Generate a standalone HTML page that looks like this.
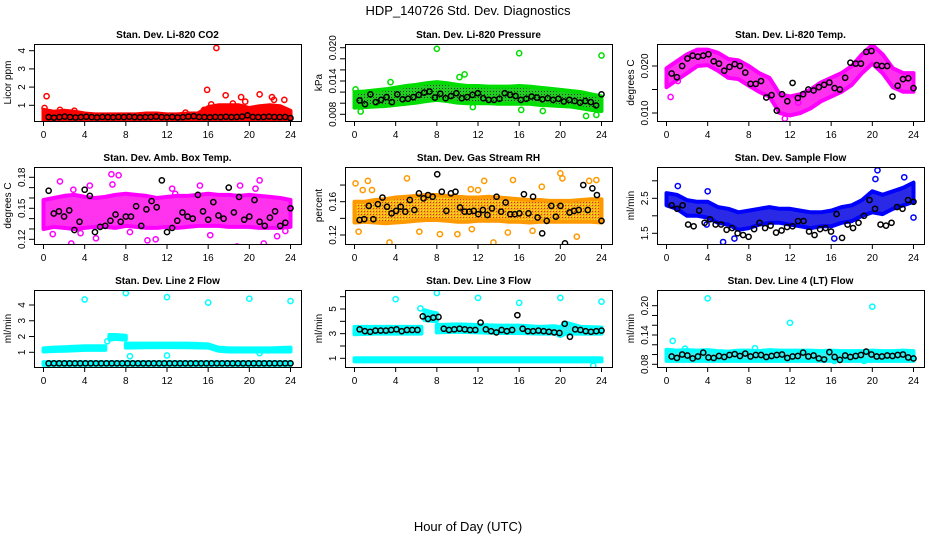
<!DOCTYPE html>
<html><head><meta charset="utf-8">
<style>
html,body{margin:0;padding:0;background:#fff;}
svg{display:block;font-family:"Liberation Sans",Arial,sans-serif;}
</style></head>
<body>
<svg id="chart" width="936" height="540" viewBox="0 0 936 540">
<defs>
<pattern id="pat-pressure" width="3" height="3" patternUnits="userSpaceOnUse"><rect width="3" height="3" fill="#22cc22"/><rect x="1" y="1" width="1" height="1" fill="#064406"/></pattern>
<pattern id="pat-rh" width="3" height="3" patternUnits="userSpaceOnUse"><rect width="3" height="3" fill="#f5b020"/><rect x="1" y="1" width="1" height="1" fill="#e03000"/><rect x="0" y="0" width="1" height="1" fill="#ffee00"/></pattern>
</defs>
<text x="468" y="15" font-size="13" text-anchor="middle">HDP_140726  Std. Dev. Diagnostics</text>
<text x="468" y="531" font-size="13" text-anchor="middle">Hour of Day (UTC)</text>
</svg>
<script>
// ---------- data ----------
const bandHours = [0,1,2,3,4,5,6,7,8,9,10,11,12,13,14,15,16,17,18,19,20,21,22,23,24];
const xTicks = [0,4,8,12,16,20,24];

const co2Lo = [0.2,0.2,0.2,0.2,0.2,0.2,0.2,0.2,0.2,0.2,0.2,0.2,0.2,0.2,0.2,0.2,0.2,0.2,0.2,0.2,0.2,0.2,0.2,0.2,0.2];
const co2Hi = [0.75,0.65,0.7,0.65,0.55,0.5,0.5,0.5,0.5,0.5,0.55,0.55,0.5,0.5,0.55,0.55,0.9,1.0,1.0,1.0,0.85,0.95,1.0,0.95,0.7];
const co2Out = [[0.3,1.5],[0.1,0.85],[15.9,1.85],[16.8,4.15],[17.7,1.55],[21,1.6],[22.2,1.45],[23.4,1.3],[19.2,1.45],[19.6,1.2],[15.6,0.75],[13.8,0.6],[16.3,1.05],[18.4,1.1],[22.4,1.3],[1.6,0.75],[3,0.7]];
const co2Blk = [0.35,0.32,0.35,0.38,0.35,0.33,0.35,0.37,0.35,0.33,0.36,0.35,0.34,0.36,0.35,0.37,0.35,0.34,0.35,0.36,0.38,0.35,0.34,0.36,0.33,0.35,0.38,0.4,0.36,0.35,0.34,0.36,0.35,0.37,0.35,0.36,0.38,0.45,0.36,0.35,0.36,0.38,0.36,0.35,0.36,0.3];

const presLo = [0.0092,0.0093,0.0094,0.0095,0.0097,0.0099,0.0101,0.0104,0.0106,0.0104,0.0101,0.0100,0.0100,0.0100,0.0099,0.0099,0.0099,0.0099,0.0097,0.0096,0.0095,0.0094,0.0091,0.0088,0.0086];
const presHi = [0.0120,0.0121,0.0123,0.0125,0.0128,0.0131,0.0133,0.0136,0.0138,0.0136,0.0133,0.0131,0.0131,0.0130,0.0130,0.0130,0.0131,0.0130,0.0128,0.0126,0.0124,0.0122,0.0120,0.0116,0.0112];
const presOut = [[8,0.0198],[16,0.0190],[24,0.0186],[0.6,0.0085],[22.5,0.0077],[16.2,0.0088],[10.7,0.0152],[11.5,0.0093],[0.1,0.0125],[18.3,0.0086],[23.5,0.0079],[10.2,0.0147],[3.5,0.0138]];
const presBlk = [0.0105,0.0098,0.0116,0.0102,0.0106,0.0111,0.0102,0.0116,0.0107,0.0108,0.0111,0.0115,0.0119,0.0121,0.0110,0.0117,0.0109,0.0113,0.0118,0.0109,0.0111,0.0115,0.0118,0.0109,0.0106,0.0106,0.0108,0.0118,0.0115,0.0113,0.0106,0.0108,0.0112,0.0110,0.0107,0.0109,0.0106,0.0108,0.0103,0.0106,0.0104,0.0101,0.0104,0.0102,0.0096,0.0116];

const tempLo = [0.0155,0.0170,0.0185,0.0200,0.0202,0.0190,0.0175,0.0172,0.0158,0.0145,0.0135,0.0100,0.0095,0.0100,0.0110,0.0125,0.0135,0.0145,0.0160,0.0185,0.0205,0.0185,0.0155,0.0145,0.0145];
const tempHi = [0.0195,0.0210,0.0225,0.0235,0.0235,0.0228,0.0215,0.0212,0.0200,0.0185,0.0175,0.0140,0.0135,0.0140,0.0150,0.0165,0.0175,0.0185,0.0200,0.0225,0.0245,0.0225,0.0195,0.0185,0.0185];
const tempOut = [[0.4,0.0134],[11.5,0.0088],[12.8,0.0122],[1.1,0.0168]];
const tempBlk = [0.0184,0.0176,0.0200,0.0216,0.0222,0.0220,0.0222,0.0225,0.0210,0.0205,0.0190,0.0198,0.0204,0.0200,0.0186,0.0162,0.0162,0.0168,0.0133,0.0138,0.0105,0.0140,0.0125,0.0164,0.0132,0.0140,0.0150,0.0148,0.0155,0.0160,0.0165,0.0153,0.0150,0.0175,0.0207,0.0205,0.0205,0.0230,0.0232,0.0202,0.0200,0.0200,0.0135,0.0158,0.0172,0.0174,0.0153];

const ambLo = [0.130,0.132,0.131,0.130,0.131,0.132,0.132,0.131,0.133,0.132,0.131,0.131,0.132,0.131,0.132,0.133,0.133,0.133,0.132,0.132,0.132,0.131,0.131,0.131,0.132];
const ambHi = [0.158,0.160,0.162,0.163,0.161,0.160,0.161,0.163,0.164,0.163,0.162,0.160,0.161,0.162,0.162,0.163,0.164,0.163,0.163,0.162,0.163,0.162,0.161,0.160,0.158];
const ambOut = [[1.6,0.176],[2.7,0.116],[4.5,0.172],[5.1,0.121],[6.6,0.183],[7.3,0.182],[6.7,0.173],[10.1,0.119],[10.9,0.120],[13.5,0.109],[12.5,0.169],[15.2,0.172],[18.8,0.113],[19.1,0.172],[20.6,0.169],[21,0.177],[21.4,0.116],[22.7,0.123],[0.9,0.125],[3.6,0.126],[8.4,0.127],[16.2,0.124],[23.5,0.128],[2.9,0.168],[12.8,0.164]];
const ambBlk = [0.167,0.145,0.147,0.142,0.148,0.129,0.137,0.168,0.162,0.127,0.132,0.133,0.138,0.144,0.137,0.142,0.142,0.152,0.133,0.149,0.157,0.151,0.177,0.127,0.131,0.138,0.146,0.142,0.140,0.163,0.147,0.139,0.156,0.143,0.140,0.170,0.146,0.161,0.139,0.142,0.158,0.137,0.133,0.141,0.147,0.133,0.136,0.150];

const rhLo = [0.135,0.136,0.135,0.134,0.135,0.136,0.137,0.138,0.138,0.137,0.136,0.136,0.137,0.137,0.137,0.136,0.136,0.135,0.136,0.136,0.136,0.136,0.136,0.136,0.135];
const rhHi = [0.160,0.160,0.162,0.163,0.165,0.166,0.167,0.168,0.168,0.167,0.166,0.165,0.165,0.166,0.165,0.164,0.163,0.162,0.162,0.161,0.161,0.161,0.162,0.163,0.163];
const rhOut = [[0.1,0.182],[0.4,0.124],[1.3,0.185],[3.4,0.111],[5.1,0.188],[6.3,0.124],[8.3,0.121],[10,0.121],[11.4,0.127],[12.6,0.185],[13.5,0.111],[14.9,0.123],[15.4,0.186],[17.3,0.125],[18.2,0.178],[20,0.194],[20.2,0.188],[21.6,0.118],[22.8,0.185],[23.5,0.186],[0.8,0.174],[1.7,0.174],[11.3,0.175],[12,0.174]];
const rhBlk = [0.138,0.139,0.155,0.139,0.157,0.165,0.154,0.146,0.149,0.154,0.148,0.162,0.150,0.170,0.164,0.168,0.166,0.193,0.172,0.149,0.170,0.172,0.153,0.148,0.148,0.149,0.145,0.150,0.144,0.152,0.166,0.148,0.159,0.145,0.145,0.146,0.169,0.146,0.166,0.141,0.122,0.137,0.155,0.142,0.155,0.110,0.147,0.149,0.150,0.180,0.150,0.176,0.168,0.137];

const flowLo = [2.30,2.20,2.00,2.00,1.95,1.80,1.75,1.60,1.65,1.75,1.80,1.80,1.75,1.70,1.65,1.70,1.70,1.80,1.85,2.00,2.10,2.05,2.20,2.30,2.40];
const flowHi = [2.65,2.60,2.45,2.40,2.40,2.25,2.20,2.10,2.15,2.20,2.25,2.20,2.20,2.15,2.10,2.10,2.15,2.25,2.30,2.45,2.70,2.60,2.70,2.80,2.95];
const flowOut = [[1.1,2.85],[5.5,1.25],[6.6,1.35],[16.3,1.35],[20.5,3.3],[20.3,3.05],[23.1,3.1],[24,1.95],[3.9,1.75],[4,2.7]];
const flowBlk = [2.3,2.2,2.3,1.75,1.7,2.15,1.8,1.9,1.75,1.75,1.6,1.65,1.5,1.45,1.4,1.62,1.8,1.65,1.72,1.52,1.58,1.68,1.7,1.85,1.85,1.55,1.45,1.62,1.65,1.55,2.05,1.37,1.75,1.65,1.8,2.0,2.45,2.2,1.75,1.72,1.8,2.25,2.2,2.45,2.4];

const l2Lo = [1.05,1.08,1.1,1.12,1.15,1.15,1.15];
const l2Hi = [1.25,1.3,1.32,1.35,1.38,1.38,1.38];
const l2bHours = [6.4,7,8];
const l2bLo = [1.8,1.85,1.8];
const l2bHi = [2.1,2.1,2.05];
const l2cHours = [8,10,12,14,16,17,18,20,22,24];
const l2cLo = [1.3,1.32,1.33,1.32,1.3,1.1,1.05,1.05,1.05,1.05];
const l2cHi = [1.55,1.55,1.55,1.55,1.5,1.3,1.25,1.25,1.25,1.3];
const l2Lo2 = bandHours.map(()=>0.2);
const l2Hi2 = bandHours.map(()=>0.38);
const l2Out = [[4,4.35],[8,4.75],[12,4.5],[16,4.15],[20,4.4],[24,4.25],[8.4,0.75],[12,0.8],[6.2,1.7],[21,0.95]];
const l2Blk = [0.3,0.3,0.3,0.3,0.3,0.3,0.3,0.3,0.3,0.3,0.3,0.3,0.3,0.3,0.3,0.3,0.3,0.3,0.3,0.3,0.3,0.3,0.3,0.3,0.3,0.3,0.3,0.3,0.3,0.3,0.3,0.3,0.3,0.3,0.3,0.3,0.3,0.3,0.3,0.3,0.3,0.3,0.3,0.3,0.3,0.3,0.3];

const l3aHours = [0,2,4,6.5];
const l3aLo = [2.95,3.0,3.0,3.0];
const l3aHi = [3.55,3.55,3.55,3.55];
const l3bHours = [6.8,7.4,8];
const l3bLo = [4.1,4.05,4.0];
const l3bHi = [4.9,4.75,4.65];
const l3cHours = [8,10,12,14,16,18,19.5,20,20.5,22,24];
const l3cLo = [3.1,3.15,3.1,3.05,3.05,3.0,3.0,2.8,3.0,3.0,3.0];
const l3cHi = [3.7,3.75,3.7,3.65,3.65,3.55,3.6,3.5,3.9,3.55,3.5];
const l3Lo2 = bandHours.map(()=>0.75);
const l3Hi2 = bandHours.map(()=>1.0);
const l3Out = [[4,5.8],[8,6.3],[12,5.9],[16,5.5],[20,5.9],[24,5.6],[6.4,5.05],[23.2,0.4]];
const l3Blk = [3.35,3.2,3.15,3.25,3.25,3.25,3.3,3.35,3.2,3.3,3.3,3.3,4.4,4.2,4.3,4.35,3.4,3.3,3.35,3.4,3.35,3.3,3.3,3.9,3.35,3.2,3.1,3.3,3.2,3.3,4.5,3.4,3.2,3.2,3.25,3.2,3.15,3.1,3.05,3.8,2.75,3.35,3.3,3.2,3.15,3.2,3.25];

const l4Lo = bandHours.map(()=>0.087);
const l4Hi = [0.110,0.108,0.109,0.108,0.109,0.107,0.106,0.108,0.108,0.107,0.109,0.108,0.108,0.108,0.108,0.107,0.108,0.107,0.107,0.107,0.108,0.107,0.107,0.108,0.107];
const l4Out = [[4,0.215],[12,0.165],[20,0.198],[0.6,0.128],[8.6,0.113],[1.8,0.112],[19.2,0.087],[16.3,0.087]];
const l4Blk = [0.096,0.093,0.100,0.098,0.092,0.096,0.104,0.094,0.093,0.097,0.095,0.099,0.101,0.097,0.102,0.096,0.099,0.099,0.095,0.097,0.099,0.100,0.093,0.096,0.097,0.104,0.096,0.098,0.092,0.090,0.105,0.095,0.089,0.098,0.095,0.097,0.099,0.106,0.100,0.096,0.096,0.098,0.097,0.099,0.100,0.094,0.092];

// ---------- layout (not data) ----------
const NS = "http://www.w3.org/2000/svg";
const svg = document.getElementById("chart");
const colX = [34,345,657], rowY = [44,167,290], BW = 267, BH = 77;
function mk(tag, attrs, parent){ const e=document.createElementNS(NS,tag); for(const k in attrs) e.setAttribute(k,attrs[k]); (parent||svg).appendChild(e); return e; }

const panels = [
 {key:"co2",title:"Stan. Dev. Li-820 CO2",ylab:"Licor ppm",c:0,r:0,v1:1,p1:105.3,v2:4,p2:50.7,ticks:[1,2,3,4],labels:["1","2","3","4"],col:"#ff0000",fill:"#ff0000",bands:[[bandHours,co2Lo,co2Hi]],out:co2Out,blk:co2Blk},
 {key:"pressure",title:"Stan. Dev. Li-820 Pressure",ylab:"kPa",c:1,r:0,v1:0.008,p1:114.3,v2:0.020,p2:47.7,ticks:[0.008,0.010,0.012,0.014,0.016,0.018,0.020],labels:["0.008","","","0.014","","","0.020"],col:"#00dd00",fill:"url(#pat-pressure)",bands:[[bandHours,presLo,presHi]],out:presOut,blk:presBlk},
 {key:"temp",title:"Stan. Dev. Li-820 Temp.",ylab:"degrees C",c:2,r:0,v1:0.010,p1:113,v2:0.020,p2:66,ticks:[0.010,0.015,0.020],labels:["0.010","","0.020"],col:"#ff00ff",fill:"#ff33ee",bands:[[bandHours,tempLo,tempHi]],out:tempOut,blk:tempBlk},
 {key:"ambbox",title:"Stan. Dev. Amb. Box Temp.",ylab:"degrees C",c:0,r:1,v1:0.12,p1:239.3,v2:0.18,p2:177.3,ticks:[0.12,0.13,0.14,0.15,0.16,0.17,0.18],labels:["0.12","","","0.15","","","0.18"],col:"#ff00ff",fill:"#ff33ee",bands:[[bandHours,ambLo,ambHi]],out:ambOut,blk:ambBlk},
 {key:"rh",title:"Stan. Dev. Gas Stream RH",ylab:"percent",c:1,r:1,v1:0.12,p1:235,v2:0.16,p2:201.7,ticks:[0.12,0.14,0.16,0.18],labels:["0.12","","0.16",""],col:"#ff9900",fill:"url(#pat-rh)",bands:[[bandHours,rhLo,rhHi]],out:rhOut,blk:rhBlk},
 {key:"sampleflow",title:"Stan. Dev. Sample Flow",ylab:"ml/min",c:2,r:1,v1:1.5,p1:233.3,v2:2.5,p2:198.3,ticks:[1.5,2.0,2.5,3.0],labels:["1.5","","2.5",""],col:"#0000ff",fill:"#2a2ae6",bands:[[bandHours,flowLo,flowHi]],out:flowOut,blk:flowBlk},
 {key:"line2",title:"Stan. Dev. Line 2 Flow",ylab:"ml/min",c:0,r:2,v1:1,p1:352.3,v2:4,p2:305,ticks:[1,2,3,4],labels:["1","2","3","4"],col:"#00ffff",fill:"#33f0f0",bands:[[bandHours.slice(0,7),l2Lo,l2Hi],[l2bHours,l2bLo,l2bHi],[l2cHours,l2cLo,l2cHi],[bandHours,l2Lo2,l2Hi2]],out:l2Out,blk:l2Blk},
 {key:"line3",title:"Stan. Dev. Line 3 Flow",ylab:"ml/min",c:1,r:2,v1:1,p1:358.3,v2:5,p2:309,ticks:[1,2,3,4,5,6],labels:["1","","3","","5",""],col:"#00ffff",fill:"#33f0f0",bands:[[l3aHours,l3aLo,l3aHi],[l3bHours,l3bLo,l3bHi],[l3cHours,l3cLo,l3cHi],[bandHours,l3Lo2,l3Hi2]],out:l3Out,blk:l3Blk},
 {key:"line4",title:"Stan. Dev. Line 4 (LT) Flow",ylab:"ml/min",c:2,r:2,v1:0.08,p1:364.3,v2:0.20,p2:305.7,ticks:[0.08,0.10,0.12,0.14,0.16,0.18,0.20],labels:["0.08","","","0.14","","","0.20"],col:"#00ffff",fill:"#33f0f0",bands:[[bandHours,l4Lo,l4Hi]],out:l4Out,blk:l4Blk}
];

panels.forEach(p=>{
  const L = colX[p.c], T = rowY[p.r];
  const x = h => L + 9.5 + h*(247/24);
  const y = v => p.p1 + (v - p.v1)*(p.p2 - p.p1)/(p.v2 - p.v1);
  const g = mk("g",{});
  
  
  const clipId = "clip-" + p.key;
  const cp = mk("clipPath",{id:clipId},g); mk("rect",{x:L,y:T,width:BW,height:BH},cp);
  const plot = mk("g",{"clip-path":"url(#"+clipId+")"},g);
  p.bands.forEach(b=>{
    const [hs,lo,hi] = b;
    let pts = hs.map((h,i)=>x(h).toFixed(1)+","+y(hi[i]).toFixed(1));
    for(let i=hs.length-1;i>=0;i--) pts.push(x(hs[i]).toFixed(1)+","+y(lo[i]).toFixed(1));
    const poly = mk("polygon",{points:pts.join(" "),fill:p.fill,stroke:p.col,"stroke-width":4,"stroke-linejoin":"round"},plot);
    
    
  });
  p.out.forEach(o=>{
    const c = mk("circle",{cx:x(o[0]),cy:y(o[1]),r:2.6,fill:"none",stroke:p.col,"stroke-width":1.5},plot);
    
    
  });
  const n = p.blk.length;
  p.blk.forEach((v,i)=>{
    const h = 0.5 + i*(23.5/(n-1));
    const c = mk("circle",{cx:x(h),cy:y(v),r:2.6,fill:"none",stroke:"#000","stroke-width":1.5},plot);
    
    
  });
  const box = mk("rect",{x:L+0.5,y:T+0.5,width:BW,height:BH,fill:"none",stroke:"#000","stroke-width":1},g);
  
  
  const t = mk("text",{x:L+BW/2,y:T-6,"font-size":10,"font-weight":"bold","text-anchor":"middle"},g);
  t.textContent = p.title;
  
  
  mk("line",{x1:x(0),x2:x(24),y1:T+BH+0.5,y2:T+BH+0.5,stroke:"#000"},g);
  xTicks.forEach(h=>{
    mk("line",{x1:x(h),x2:x(h),y1:T+BH,y2:T+BH+5,stroke:"#000"},g);
    const tx = mk("text",{x:x(h),y:T+BH+17,"font-size":10,"text-anchor":"middle"},g);
    tx.textContent = h;
    
    
  });
  p.ticks.forEach((v,i)=>{
    const yy = y(v);
    mk("line",{x1:L-5,x2:L,y1:yy,y2:yy,stroke:"#000"},g);
    if(p.labels[i]){
      const tx = mk("text",{x:0,y:0,"font-size":10,"text-anchor":"middle",transform:"translate("+(L-9)+","+yy+") rotate(-90)"},g);
      tx.textContent = p.labels[i];
      
      
    }
  });
  const yt = mk("text",{x:0,y:0,"font-size":10,"text-anchor":"middle",transform:"translate("+(L-23)+","+(T+BH/2)+") rotate(-90)"},g);
  yt.textContent = p.ylab;
  
  
});
</script>
</body></html>
